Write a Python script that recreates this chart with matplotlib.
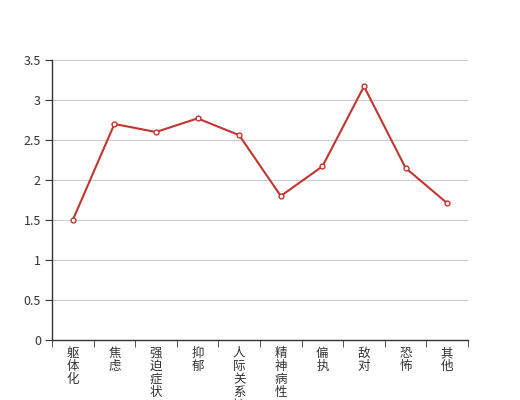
import numpy as np
import matplotlib
matplotlib.use("Agg")
import matplotlib.pyplot as plt
from matplotlib.ticker import FixedLocator, FormatStrFormatter

plt.rcParams['font.family'] = ['Noto Sans CJK SC', 'DejaVu Sans']

# data
categories = ['躯体化', '焦虑', '强迫症状', '抑郁', '人际关系敏感',
              '精神病性', '偏执', '敌对', '恐怖', '其他']
scores = [1.50, 2.70, 2.60, 2.77, 2.56, 1.80, 2.17, 3.17, 2.15, 1.71]
yticks = [0, 0.5, 1, 1.5, 2, 2.5, 3, 3.5]

fig = plt.figure(figsize=(5.2, 4.0), dpi=100)
ax = fig.add_axes([0.1, 0.15, 0.8, 0.70])

x = np.arange(len(categories))
ax.plot(x, scores, color='#c23531', lw=1.5, marker='o', ms=3.5,
        mfc='white', mec='#c23531', mew=1, zorder=3)

ax.set_xlim(-0.5, len(categories) - 0.5)
ax.set_ylim(0, 3.5)
ax.set_yticks(yticks)
ax.yaxis.set_major_formatter(FormatStrFormatter('%g'))
ax.grid(axis='y', color='#cccccc', lw=0.8)
ax.set_axisbelow(True)

# vertical labels, one char per line (the long one runs off the bottom, as in the reference)
ax.set_xticks(x)
ax.set_xticklabels(['\n'.join(c) for c in categories], va='top',
                   linespacing=1.0)
ax.tick_params(axis='x', which='major', length=0, pad=5, labelsize=9,
               labelcolor='#333333')
ax.xaxis.set_minor_locator(FixedLocator(np.arange(-0.5, len(categories), 1)))
ax.tick_params(axis='x', which='minor', length=5, color='#333333')
ax.tick_params(axis='y', length=5, color='#333333', labelsize=9,
               labelcolor='#333333', pad=3)

for s in ['top', 'right']:
    ax.spines[s].set_visible(False)
for s in ['left', 'bottom']:
    ax.spines[s].set_color('#333333')
    ax.spines[s].set_linewidth(1)

fig.savefig('out.png', dpi=100)
